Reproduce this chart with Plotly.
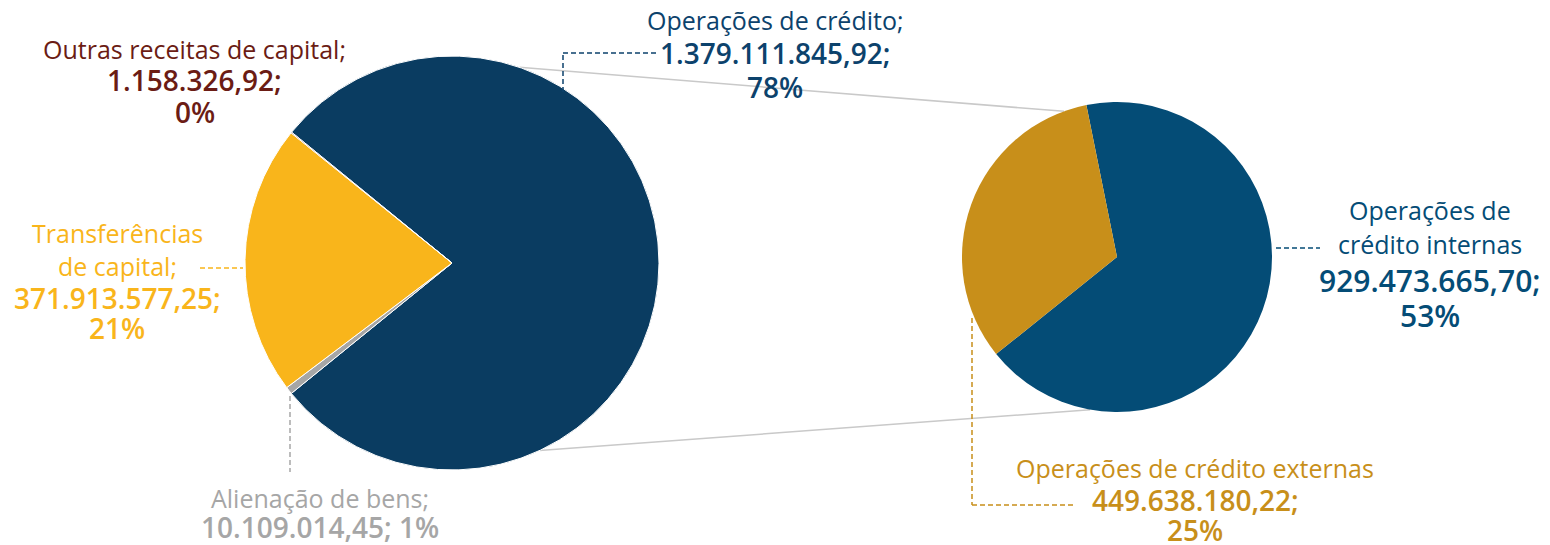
import math
import plotly.graph_objects as go

W, H = 1550, 545

# ---- data ----
main_labels = ["Operações de crédito", "Alienação de bens", "Transferências de capital", "Outras receitas de capital"]
main_values = [1379111845.92, 10109014.45, 371913577.25, 1158326.92]
main_text_values = ["1.379.111.845,92", "10.109.014,45", "371.913.577,25", "1.158.326,92"]
main_pcts = ["78%", "1%", "21%", "0%"]

sub_labels = ["Operações de crédito internas", "Operações de crédito externas"]
sub_values = [929473665.70, 449638180.22]
sub_text_values = ["929.473.665,70", "449.638.180,22"]
sub_pcts = ["53%", "25%"]

# ---- style ----
C_NAVY = "#0A3C61"
C_YELLOW = "#F9B51B"
C_GREY = "#A6A6A6"
C_MAROON = "#6B1C14"
C_BLUE = "#044C76"
C_GOLD = "#C88F1A"
C_NAVY_TXT = "#0C426C"
FONT = "Open Sans"
SZ_N, SZ_B = 25, 28

# geometry (pixels)
L_CX, L_CY, L_R = 452, 263, 207
R_CX, R_CY, R_R = 1117, 257, 155


def px(x):
    return x / W


def py(y):
    return 1 - y / H


fig = go.Figure()
fig.add_trace(go.Pie(
    labels=main_labels, values=main_values, sort=False, direction="clockwise",
    rotation=-50.8, textinfo="none", hoverinfo="label+value+percent",
    marker=dict(colors=[C_NAVY, C_GREY, C_YELLOW, C_MAROON], line=dict(color="white", width=1)),
    domain=dict(x=[px(L_CX - L_R), px(L_CX + L_R)], y=[py(L_CY + L_R), py(L_CY - L_R)]),
    showlegend=False,
))
fig.add_trace(go.Pie(
    labels=sub_labels, values=sub_values, sort=False, direction="clockwise",
    rotation=-11.4, textinfo="none", hoverinfo="label+value+percent",
    marker=dict(colors=[C_BLUE, C_GOLD], line=dict(color="white", width=0)),
    domain=dict(x=[px(R_CX - R_R), px(R_CX + R_R)], y=[py(R_CY + R_R), py(R_CY - R_R)]),
    showlegend=False,
))


def on_circle(cx, cy, r, deg):
    a = math.radians(deg)
    return cx + r * math.cos(a), cy - r * math.sin(a)


shapes = []
# series connector lines
for la, ra in [(71, 110), (-65, -100)]:
    x0, y0 = on_circle(L_CX, L_CY, L_R, la)
    x1, y1 = on_circle(R_CX, R_CY, R_R, ra)
    shapes.append(dict(type="line", xref="paper", yref="paper", x0=px(x0), y0=py(y0), x1=px(x1), y1=py(y1),
                       line=dict(color="#C9C9C9", width=1.5), layer="below"))


def dashed(points, color):
    for (xa, ya), (xb, yb) in zip(points[:-1], points[1:]):
        shapes.append(dict(type="line", xref="paper", yref="paper", x0=px(xa), y0=py(ya), x1=px(xb), y1=py(yb),
                           line=dict(color=color, width=1.5, dash="5px,3px")))


dashed([(563, 92), (563, 53), (657, 53)], C_NAVY_TXT)
dashed([(200, 268), (243, 268)], C_YELLOW)
dashed([(290, 396), (290, 472)], C_GREY)
dashed([(1276, 248), (1320, 248)], C_BLUE)
dashed([(972, 318), (972, 505), (1076, 505)], C_GOLD)

annotations = []


def label(x, ys, lines, color, bold_size=SZ_B):
    for y, (txt, bold) in zip(ys, lines):
        annotations.append(dict(
            x=px(x), y=py(y), xref="paper", yref="paper",
            text=txt, showarrow=False, borderpad=0,
            xanchor="center", yanchor="middle", align="center",
            font=dict(family=FONT, size=bold_size if bold else SZ_N, color=color,
                      weight=600 if bold else 400)))


label(775, [20, 53, 87], [(main_labels[0] + ";", False), (main_text_values[0] + ";", True),
                          (main_pcts[0], True)], C_NAVY_TXT)
label(195, [49, 80, 112], [(main_labels[3] + ";", False), (main_text_values[3] + ";", True),
                           (main_pcts[3], True)], C_MAROON)
label(117, [233, 266, 298, 328], [("Transferências", False), ("de capital;", False),
                                  (main_text_values[2] + ";", True), (main_pcts[2], True)], C_YELLOW)
label(320, [498, 527], [(main_labels[1] + ";", False),
                        (f"{main_text_values[1]}; {main_pcts[1]}", True)], C_GREY)
label(1430, [210, 244, 280, 315], [("Operações de", False), ("crédito internas", False),
                                   (sub_text_values[0] + ";", True), (sub_pcts[0], True)], C_BLUE, 30)
label(1195, [468, 500, 530], [(sub_labels[1], False), (sub_text_values[1] + ";", True),
                              (sub_pcts[1], True)], C_GOLD)

fig.update_layout(
    width=W, height=H, margin=dict(l=0, r=0, t=0, b=0),
    paper_bgcolor="white", plot_bgcolor="white",
    shapes=shapes, annotations=annotations,
)

fig.write_html("out.html", config={"displayModeBar": False},
               post_script="document.body.style.margin='0';document.body.style.overflow='hidden';")
